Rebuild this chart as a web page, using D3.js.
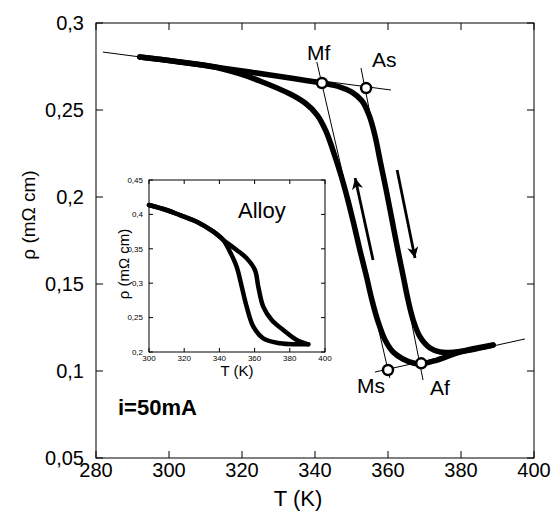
<!DOCTYPE html>
<html>
<head>
<meta charset="utf-8">
<title>Resistivity vs temperature</title>
<script src="https://cdn.jsdelivr.net/npm/d3@7"></script>
<style>
  html, body { margin: 0; padding: 0; background: #fff; }
  svg { font-family: Arial, "Liberation Sans", sans-serif; }
  .curve { fill: none; stroke: #000; stroke-linejoin: round; stroke-linecap: round; }
  .thin { fill: none; stroke: #000; stroke-width: 1; }
</style>
</head>
<body>
<svg id="chart" width="552" height="512"></svg>
<script>
// main curve, heating branch (T in K, rho in mOhm cm)
var heatT   = [292.0, 303.0, 312.6, 322.2, 333.2, 341.9, 346.9, 350.1, 352.9, 354.8, 356.4, 357.8,
               359.5, 361.1, 362.7, 364.1, 365.5, 366.9, 368.8, 371.5, 374.3, 378.4, 382.5, 388.8];
var heatRho = [0.2805, 0.2776, 0.2747, 0.2718, 0.2684, 0.2655, 0.2632, 0.2603, 0.2552, 0.2471, 0.2356, 0.2213,
               0.2040, 0.1868, 0.1695, 0.1552, 0.1408, 0.1293, 0.1195, 0.1132, 0.1109, 0.1109, 0.1121, 0.1149];
// cooling branch
var coolT   = [292.0, 303.0, 312.6, 319.5, 324.9, 333.2, 337.3, 340.6, 343.0, 344.9, 347.1, 349.0, 350.7,
               352.3, 354.0, 355.6, 357.3, 359.2, 361.4, 364.1, 366.9, 369.0, 373.4, 379.7, 388.8];
var coolRho = [0.2805, 0.2776, 0.2747, 0.2707, 0.2667, 0.2592, 0.2540, 0.2471, 0.2379, 0.2270, 0.2126, 0.1983, 0.1839,
               0.1695, 0.1552, 0.1408, 0.1282, 0.1178, 0.1109, 0.1069, 0.1046, 0.1040, 0.1063, 0.1109, 0.1149];

// construction lines: [T1, rho1, T2, rho2]
var guideLines = [
  [281.9, 0.2833, 360.8, 0.2615],   // upper baseline
  [356.4, 0.0994, 397.5, 0.1184],   // lower baseline
  [340.5, 0.2776, 360.5, 0.0960],   // cooling tangent (Mf - Ms)
  [352.6, 0.2741, 369.6, 0.0948]    // heating tangent (As - Af)
];
var pointNames = ["Mf", "As", "Ms", "Af"];
var pointT     = [341.9, 354.0, 360.0, 369.1];
var pointRho   = [0.2655, 0.2626, 0.1006, 0.1044];

// arrows: [T from, rho from, T to, rho to]
var arrows = [
  [355.9, 0.1638, 351.0, 0.2109],
  [362.5, 0.2155, 367.4, 0.1649]
];

var xTicks = [280, 300, 320, 340, 360, 380, 400];
var yTicks = [0.05, 0.1, 0.15, 0.2, 0.25, 0.3];

// inset: alloy
var alloyHeatT   = [300.0, 309.9, 317.6, 327.1, 336.6, 342.2, 349.8, 355.5, 360.2, 362.1, 364.9, 369.7, 376.3, 383.9, 390.5];
var alloyHeatRho = [0.4137, 0.4064, 0.3990, 0.3894, 0.3749, 0.3628, 0.3483, 0.3362, 0.3192, 0.2949, 0.2659, 0.2465, 0.2320, 0.2174, 0.2112];
var alloyCoolT   = [300.0, 309.9, 317.6, 327.1, 336.6, 342.2, 346.0, 349.8, 352.7, 355.5, 359.3, 364.9, 374.4, 383.9, 390.5];
var alloyCoolRho = [0.4137, 0.4064, 0.3990, 0.3894, 0.3749, 0.3628, 0.3458, 0.3240, 0.2949, 0.2659, 0.2368, 0.2199, 0.2126, 0.2112, 0.2112];
var insetXTicks = [300, 320, 340, 360, 380, 400];
var insetYTicks = [0.2, 0.25, 0.3, 0.35, 0.4, 0.45];

var fmt = function(v) { return String(+v.toFixed(2)).replace(".", ","); };
var svg = d3.select("#chart");

// draws a framed box with inward ticks on all four sides
function frame(g, x, y, xt, yt, len, sw) {
  var x0 = x.range()[0], x1 = x.range()[1], y0 = y.range()[0], y1 = y.range()[1];
  g.append("rect").attr("x", x0).attr("y", y1).attr("width", x1 - x0).attr("height", y0 - y1)
    .attr("fill", "none").attr("stroke", "#000").attr("stroke-width", sw);
  g.selectAll(".xtb").data(xt).enter().append("line")
    .attr("x1", x).attr("x2", x).attr("y1", y0).attr("y2", y0 - len);
  g.selectAll(".xtt").data(xt).enter().append("line")
    .attr("x1", x).attr("x2", x).attr("y1", y1).attr("y2", y1 + len);
  g.selectAll(".ytl").data(yt).enter().append("line")
    .attr("y1", y).attr("y2", y).attr("x1", x0).attr("x2", x0 + len);
  g.selectAll(".ytr").data(yt).enter().append("line")
    .attr("y1", y).attr("y2", y).attr("x1", x1).attr("x2", x1 - len);
  g.selectAll("line").attr("stroke", "#000").attr("stroke-width", sw);
}

// ---- main chart
var x = d3.scaleLinear().domain([280, 400]).range([96, 534]);
var y = d3.scaleLinear().domain([0.05, 0.3]).range([458, 23]);

var main = svg.append("g");
frame(main.append("g"), x, y, xTicks, yTicks, 7, 1);

main.selectAll(".xl").data(xTicks).enter().append("text")
  .attr("x", x).attr("y", 477).attr("text-anchor", "middle")
  .attr("font-size", 20).text(function(d) { return d; });
main.selectAll(".yl").data(yTicks).enter().append("text")
  .attr("x", 84).attr("y", y).attr("dy", "0.35em").attr("text-anchor", "end")
  .attr("font-size", 20).text(fmt);

main.append("text").attr("x", 298).attr("y", 506).attr("text-anchor", "middle")
  .attr("font-size", 22).text("T (K)");
main.append("text").attr("transform", "translate(35,215) rotate(-90)")
  .attr("text-anchor", "middle").attr("font-size", 19).text("ρ (mΩ cm)");

var line = d3.line().x(function(d) { return x(d[0]); }).y(function(d) { return y(d[1]); })
  .curve(d3.curveCatmullRom);

main.selectAll(".guide").data(guideLines).enter().append("line").attr("class", "thin")
  .attr("x1", function(d) { return x(d[0]); }).attr("y1", function(d) { return y(d[1]); })
  .attr("x2", function(d) { return x(d[2]); }).attr("y2", function(d) { return y(d[3]); });

main.append("path").attr("class", "curve").attr("stroke-width", 5.5)
  .attr("d", line(d3.zip(heatT, heatRho)));
main.append("path").attr("class", "curve").attr("stroke-width", 5.5)
  .attr("d", line(d3.zip(coolT, coolRho)));

main.selectAll(".pt").data(d3.range(pointNames.length)).enter().append("circle")
  .attr("cx", function(i) { return x(pointT[i]); }).attr("cy", function(i) { return y(pointRho[i]); })
  .attr("r", 5).attr("fill", "#fff").attr("stroke", "#000").attr("stroke-width", 2.5);

var labelPos = { Mf: [307, 60], As: [372, 67], Ms: [357, 393], Af: [430, 395] };
pointNames.forEach(function(n) {
  main.append("text").attr("x", labelPos[n][0]).attr("y", labelPos[n][1])
    .attr("font-size", 21).text(n);
});

svg.append("defs").append("marker").attr("id", "head")
  .attr("viewBox", "0 0 10 10").attr("refX", 10).attr("refY", 5)
  .attr("markerWidth", 5).attr("markerHeight", 4).attr("orient", "auto")
  .attr("markerUnits", "strokeWidth")
  .append("path").attr("d", "M0,0 L10,5 L0,10 L3,5 Z").attr("fill", "#000");

main.selectAll(".arrow").data(arrows).enter().append("line")
  .attr("x1", function(d) { return x(d[0]); }).attr("y1", function(d) { return y(d[1]); })
  .attr("x2", function(d) { return x(d[2]); }).attr("y2", function(d) { return y(d[3]); })
  .attr("stroke", "#000").attr("stroke-width", 2.8).attr("marker-end", "url(#head)");

main.append("text").attr("x", 118).attr("y", 415).attr("font-size", 22)
  .attr("font-weight", "bold").text("i=50mA");

// ---- inset
var ix = d3.scaleLinear().domain([300, 400]).range([149, 325]);
var iy = d3.scaleLinear().domain([0.2, 0.45]).range([352, 180]);
var inset = svg.append("g");
inset.append("rect").attr("x", 149).attr("y", 180).attr("width", 176).attr("height", 172).attr("fill", "#fff");
frame(inset.append("g"), ix, iy, insetXTicks, insetYTicks, 4, 1);

inset.selectAll(".xl").data(insetXTicks).enter().append("text")
  .attr("x", ix).attr("y", 361).attr("text-anchor", "middle")
  .attr("font-size", 8).text(function(d) { return d; });
inset.selectAll(".yl").data(insetYTicks).enter().append("text")
  .attr("x", 143).attr("y", iy).attr("dy", "0.35em").attr("text-anchor", "end")
  .attr("font-size", 8).text(fmt);
inset.append("text").attr("x", 237).attr("y", 376).attr("text-anchor", "middle")
  .attr("font-size", 15).text("T (K)");
inset.append("text").attr("transform", "translate(129,264) rotate(-90)")
  .attr("text-anchor", "middle").attr("font-size", 15).text("ρ (mΩ cm)");

var iline = d3.line().x(function(d) { return ix(d[0]); }).y(function(d) { return iy(d[1]); })
  .curve(d3.curveCatmullRom);
inset.append("path").attr("class", "curve").attr("stroke-width", 4.5)
  .attr("d", iline(d3.zip(alloyHeatT, alloyHeatRho)));
inset.append("path").attr("class", "curve").attr("stroke-width", 4.5)
  .attr("d", iline(d3.zip(alloyCoolT, alloyCoolRho)));
inset.append("text").attr("x", 238).attr("y", 218).attr("font-size", 22).text("Alloy");
</script>
</body>
</html>
